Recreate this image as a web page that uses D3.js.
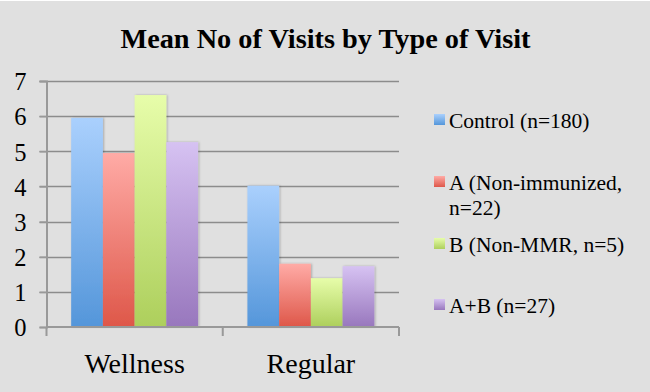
<!DOCTYPE html>
<html><head><meta charset="utf-8">
<script src="https://cdn.jsdelivr.net/npm/d3@7"></script>
<style>body{margin:0;background:#e0e0e0;}svg{display:block;}</style>
</head><body>
<svg id="c" width="650" height="392"></svg>
<script>
const title = "Mean No of Visits by Type of Visit";
const categories = ["Wellness", "Regular"];
const seriesNames = ["Control (n=180)", "A (Non-immunized, n=22)", "B (Non-MMR, n=5)", "A+B (n=27)"];
const legendLines = [["Control (n=180)"], ["A (Non-immunized,", "n=22)"], ["B (Non-MMR, n=5)"], ["A+B (n=27)"]];
const control = [5.95, 4.02];
const groupA = [4.95, 1.8];
const groupB = [6.6, 1.39];
const groupAB = [5.26, 1.73];
const yTicks = [0, 1, 2, 3, 4, 5, 6, 7];
const colorsTop = ["#aad0fd", "#ffaba6", "#e7fdaa", "#d6c2f2"];
const colorsBottom = ["#5496da", "#de5749", "#adcf5c", "#9877bd"];

const FONT = "Liberation Serif";
const seriesValues = [control, groupA, groupB, groupAB];
const svg = d3.select("#c");
svg.append("rect").attr("width", 650).attr("height", 392).attr("fill", "#e0e0e0");
svg.append("line").attr("x1",0).attr("x2",650).attr("y1",0.5).attr("y2",0.5).attr("stroke","#fff");

const pLeft = 46.5, pRight = 399, pTop = 81, pBottom = 327;
const y = d3.scaleLinear().domain([0, 7]).range([pBottom, pTop]);
const x0 = d3.scaleBand().domain(categories).range([pLeft, pRight]).paddingInner(0.28).paddingOuter(0.14);
const x1 = d3.scaleBand().domain(d3.range(4)).range([0, x0.bandwidth()]);

const defs = svg.append("defs");
seriesNames.forEach((s, i) => {
  const g = defs.append("linearGradient").attr("id", "g" + i).attr("x1", 0).attr("x2", 0).attr("y1", 0).attr("y2", 1);
  g.append("stop").attr("offset", "0%").attr("stop-color", colorsTop[i]);
  g.append("stop").attr("offset", "100%").attr("stop-color", colorsBottom[i]);
});
const f = defs.append("filter").attr("id", "sh").attr("x", "-20%").attr("y", "-20%").attr("width", "140%").attr("height", "140%");
f.append("feDropShadow").attr("dx", 1).attr("dy", 0).attr("stdDeviation", 1.2).attr("flood-color", "#000").attr("flood-opacity", 0.25);

// gridlines
svg.append("g").selectAll("line").data(yTicks.slice(1)).join("line")
  .attr("x1", pLeft - 7).attr("x2", pRight).attr("y1", d => Math.round(y(d)) + 0.5).attr("y2", d => Math.round(y(d)) + 0.5)
  .attr("stroke", "#8c8c8c").attr("stroke-width", 1.5);

// y axis
const yAxis = svg.append("g").attr("transform", `translate(${pLeft},0)`)
  .call(d3.axisLeft(y).tickValues(yTicks).tickSize(7).tickPadding(13).tickFormat(d3.format("d")));
yAxis.select(".domain").attr("stroke", "#999").attr("stroke-width", 2);
yAxis.selectAll(".tick line").attr("stroke", "#999").attr("stroke-width", 1.5);
yAxis.selectAll("text").style("font-family", FONT).style("font-size", "24.5px").attr("fill", "#000").attr("dy", "0.36em");

// bars
const groups = svg.append("g").selectAll("g").data(categories).join("g")
  .attr("transform", c => `translate(${x0(c)},0)`);
groups.selectAll("rect").data((c, ci) => seriesValues.map((vals, si) => ({si, v: vals[ci]}))).join("rect")
  .attr("x", d => x1(d.si)).attr("width", x1.bandwidth())
  .attr("y", d => y(d.v)).attr("height", d => y(0) - y(d.v))
  .attr("fill", d => `url(#g${d.si})`).attr("filter", "url(#sh)");

// x axis
const xAxis = svg.append("g").attr("transform", `translate(0,${pBottom})`);
xAxis.append("line").attr("x1", pLeft).attr("x2", pRight).attr("stroke", "#999").attr("stroke-width", 2);
const bounds = [pLeft, (x0("Wellness") + x0.bandwidth() + x0("Regular")) / 2, pRight];
xAxis.selectAll(".tk").data(bounds).join("line").attr("class", "tk")
  .attr("x1", d => d).attr("x2", d => d).attr("y1", 0).attr("y2", 9).attr("stroke", "#999").attr("stroke-width", 2);
xAxis.selectAll("text").data(categories).join("text")
  .attr("x", c => x0(c) + x0.bandwidth() / 2).attr("y", 46)
  .attr("text-anchor", "middle").style("font-family", FONT).style("font-size", "28px").attr("fill", "#000")
  .text(c => c);

// title
svg.append("text").attr("x", 325.5).attr("y", 48).attr("text-anchor", "middle")
  .style("font-family", FONT).style("font-weight", "bold").style("font-size", "28.3px").attr("fill", "#000")
  .text(title);

// legend
const legendY = [128, 190, 252, 313];
const lg = svg.append("g").selectAll("g").data(seriesNames).join("g")
  .attr("transform", (d, i) => `translate(434,${legendY[i]})`);
lg.append("rect").attr("x", 0).attr("y", -14).attr("width", 11).attr("height", 11).attr("fill", (d, i) => `url(#g${i})`);
lg.append("text").style("font-family", FONT).style("font-size", "21.5px").attr("fill", "#000")
  .each(function(d, i) {
    d3.select(this).selectAll("tspan").data(legendLines[i]).join("tspan")
      .attr("x", 15).attr("dy", (t, j) => j === 0 ? 0 : 25).text(t => t);
  });
</script>
</body></html>
